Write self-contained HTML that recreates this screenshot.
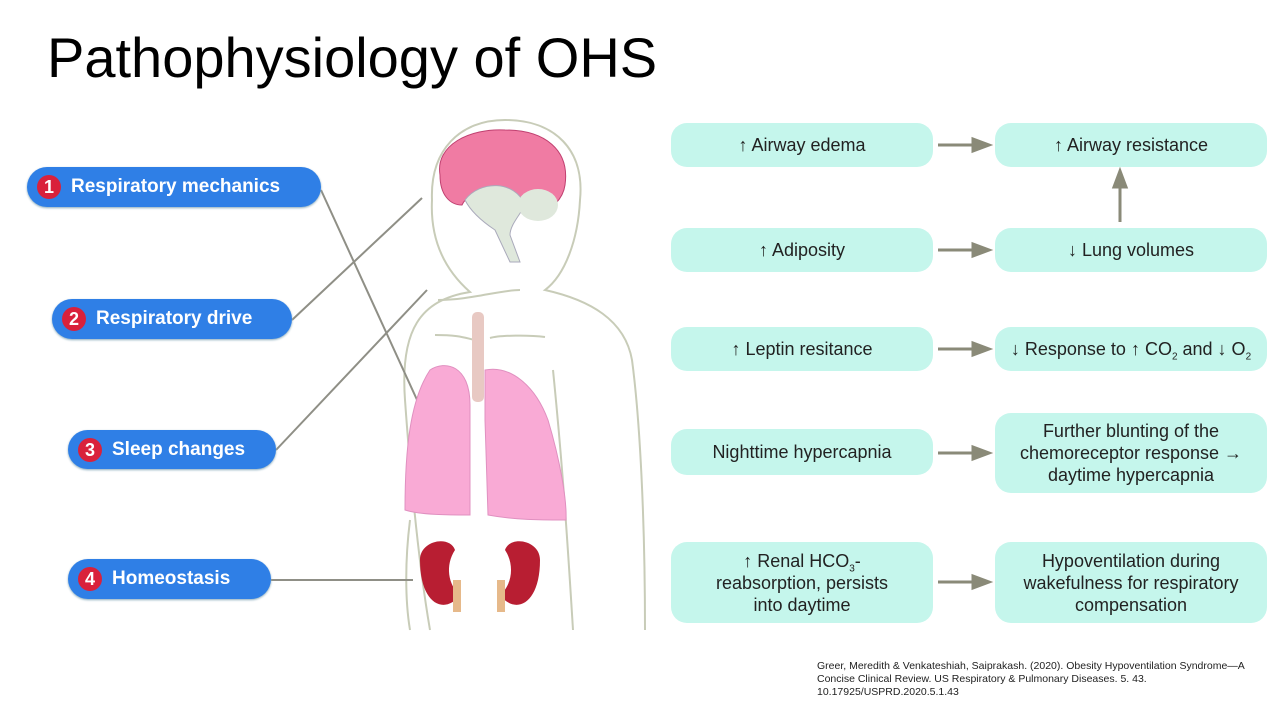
<!DOCTYPE html>
<html><head><meta charset="utf-8"><style>
body{margin:0;width:1285px;height:706px;background:#fff;font-family:"Liberation Sans",sans-serif;position:relative;overflow:hidden}
.t{position:absolute;left:47px;top:25px;font-size:56px;color:#000}
.p{position:absolute;background:#2f7fe6;border-radius:22px;color:#fff;font-weight:bold;font-size:19px;display:flex;align-items:center;box-shadow:0 1px 2px #8ab}
.p span{display:inline-block;width:24px;height:24px;border-radius:50%;background:#d9213b;color:#fff;text-align:center;line-height:24px;font-size:18px;margin:0 10px 0 10px}
.b{position:absolute;background:#c5f6ec;border-radius:16px;display:flex;align-items:center;justify-content:center;text-align:center;font-size:18px;color:#222;line-height:22px}
.b sub{font-size:10px;line-height:0}
.ref{position:absolute;left:817px;top:660px;font-size:10.5px;color:#222;line-height:13px;width:450px}
</style></head><body>
<div class="t">Pathophysiology of OHS</div>
<svg width="1285" height="706" style="position:absolute;left:0;top:0">
<g fill="none" stroke="#c8ccb8" stroke-width="2">
<path d="M430,630 C418,560 410,470 405,400 C400,330 420,300 470,292 C445,270 430,240 432,200 C430,150 460,120 505,120 C555,120 585,150 580,200 C578,240 565,275 545,290 C590,300 625,320 632,360 C640,420 645,520 645,630"/>
<path d="M438,300 C470,300 500,290 520,290"/>
<path d="M435,335 C460,335 465,338 475,340 M490,338 C500,335 530,335 545,337"/>
<path d="M553,370 C560,440 565,500 573,630"/>
<path d="M410,520 C405,560 405,600 410,630"/>
</g>
<g stroke="#8f8f86" stroke-width="2"><line x1="321" y1="190" x2="418" y2="402"/><line x1="292" y1="320" x2="422" y2="198"/><line x1="276" y1="450" x2="427" y2="290"/><line x1="271" y1="580" x2="413" y2="580"/></g>
<path d="M440,175 C435,145 470,128 505,130 C545,130 570,150 565,185 C563,200 550,210 540,215 L520,200 C500,185 470,188 462,205 C450,205 440,195 440,175Z" fill="#f07ba3" stroke="#c04070" stroke-width="1"/>
<path d="M465,200 C480,180 515,180 525,205 C520,215 510,225 510,235 L520,262 L510,262 L495,230 C480,220 470,210 465,200Z" fill="#dfe8dc" stroke="#aab" stroke-width="1"/>
<ellipse cx="538" cy="205" rx="20" ry="16" fill="#dfe8dc"/>
<rect x="472" y="312" width="12" height="90" rx="5" fill="#e8c9c3"/>
<path d="M430,370 C445,360 470,365 470,405 L470,515 C450,515 420,515 405,510 C405,450 410,400 430,370Z" fill="#f9aad5" stroke="#e090c0"/>
<path d="M485,370 C510,365 535,385 548,420 C560,460 567,500 566,520 C540,520 515,520 488,515 L485,420Z" fill="#f9aad5" stroke="#e090c0"/>
<path d="M420,560 C420,540 450,535 455,550 C445,565 448,585 460,595 C445,615 420,605 420,560Z" fill="#b81e32"/>
<path d="M540,560 C540,540 510,535 505,550 C515,565 512,585 500,595 C515,615 540,605 540,560Z" fill="#b81e32"/>
<rect x="453" y="580" width="8" height="32" fill="#e6b98a"/><rect x="497" y="580" width="8" height="32" fill="#e6b98a"/>
<g fill="#8a8a78" stroke="#8a8a78" stroke-width="3">
<line x1="938" y1="145" x2="975" y2="145"/><polygon points="973,139 989,145 973,151"/>
<line x1="938" y1="250" x2="975" y2="250"/><polygon points="973,244 989,250 973,256"/>
<line x1="938" y1="349" x2="975" y2="349"/><polygon points="973,343 989,349 973,355"/>
<line x1="938" y1="453" x2="975" y2="453"/><polygon points="973,447 989,453 973,459"/>
<line x1="938" y1="582" x2="975" y2="582"/><polygon points="973,576 989,582 973,588"/>
<line x1="1120" y1="222" x2="1120" y2="185"/><polygon points="1114,187 1120,171 1126,187"/>
</g>
</svg>
<div class="p" style="left:27px;top:167px;width:294px;height:40px"><span>1</span>Respiratory mechanics</div>
<div class="p" style="left:52px;top:299px;width:240px;height:40px"><span>2</span>Respiratory drive</div>
<div class="p" style="left:68px;top:430px;width:208px;height:39px"><span>3</span>Sleep changes</div>
<div class="p" style="left:68px;top:559px;width:203px;height:40px"><span>4</span>Homeostasis</div>
<div class="b" style="left:671px;top:123px;width:262px;height:44px"><div>↑ Airway edema</div></div>
<div class="b" style="left:995px;top:123px;width:272px;height:44px"><div>↑ Airway resistance</div></div>
<div class="b" style="left:671px;top:228px;width:262px;height:44px"><div>↑ Adiposity</div></div>
<div class="b" style="left:995px;top:228px;width:272px;height:44px"><div>↓ Lung volumes</div></div>
<div class="b" style="left:671px;top:327px;width:262px;height:44px"><div>↑ Leptin resitance</div></div>
<div class="b" style="left:995px;top:327px;width:272px;height:44px"><div>↓ Response to ↑ CO<sub>2</sub> and ↓ O<sub>2</sub></div></div>
<div class="b" style="left:671px;top:429px;width:262px;height:46px"><div>Nighttime hypercapnia</div></div>
<div class="b" style="left:995px;top:413px;width:272px;height:80px"><div>Further blunting of the<br>chemoreceptor response →<br>daytime hypercapnia</div></div>
<div class="b" style="left:671px;top:542px;width:262px;height:81px"><div>↑ Renal HCO<sub>3</sub>-<br>reabsorption, persists<br>into daytime</div></div>
<div class="b" style="left:995px;top:542px;width:272px;height:81px"><div>Hypoventilation during<br>wakefulness for respiratory<br>compensation</div></div>
<div class="ref">Greer, Meredith &amp; Venkateshiah, Saiprakash. (2020). Obesity Hypoventilation Syndrome—A Concise Clinical Review. US Respiratory &amp; Pulmonary Diseases. 5. 43. 10.17925/USPRD.2020.5.1.43</div>
</body></html>
